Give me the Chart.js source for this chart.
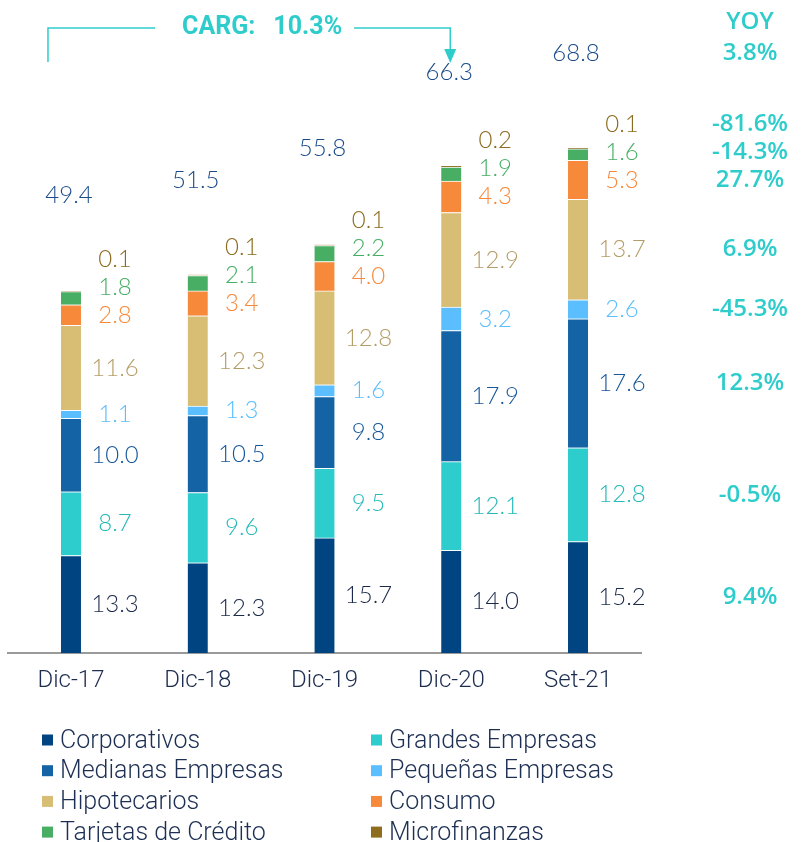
<!DOCTYPE html>
<html><head><meta charset="utf-8">
<script src="https://cdn.jsdelivr.net/npm/chart.js@4.4.1/dist/chart.umd.min.js"></script>
<style>html,body{margin:0;padding:0;background:#fff;}#wrap{width:805px;height:842px;}</style>
</head><body><div id="wrap"><canvas id="c" width="805" height="842"></canvas></div>
<script>
// ---- data ----
const categories = ['Dic-17','Dic-18','Dic-19','Dic-20','Set-21'];
const seriesNames = ['Corporativos','Grandes Empresas','Medianas Empresas','Pequeñas Empresas','Hipotecarios','Consumo','Tarjetas de Crédito','Microfinanzas'];
const corporativos     = [13.3, 12.3, 15.7, 14.0, 15.2];
const grandesEmpresas  = [8.7, 9.6, 9.5, 12.1, 12.8];
const medianasEmpresas = [10.0, 10.5, 9.8, 17.9, 17.6];
const pequenasEmpresas = [1.1, 1.3, 1.6, 3.2, 2.6];
const hipotecarios     = [11.6, 12.3, 12.8, 12.9, 13.7];
const consumo          = [2.8, 3.4, 4.0, 4.3, 5.3];
const tarjetas         = [1.8, 2.1, 2.2, 1.9, 1.6];
const microfinanzas    = [0.1, 0.1, 0.1, 0.2, 0.1];
const totals           = [49.4, 51.5, 55.8, 66.3, 68.8];
const yoyHeader = 'YOY';
const yoyTotal = '3.8%';
const yoySeries = ['9.4%','-0.5%','12.3%','-45.3%','6.9%','27.7%','-14.3%','-81.6%'];
const cagrLabel = 'CARG:';
const cagrValue = '10.3%';

// ---- styles ----
const barColors   = ['#004481','#2dcccd','#1464a5','#5bbeff','#d8be75','#f7893b','#48ae64','#8f6d1f'];
const labelColors = ['#1b2a4a','#27b8b8','#17579a','#5bbeff','#b59d67','#f7893b','#48ae64','#8b6b1f'];
const seriesValues = [corporativos, grandesEmpresas, medianasEmpresas, pequenasEmpresas, hipotecarios, consumo, tarjetas, microfinanzas];
const teal = '#2fcccc';
const navyText = '#1c2d4f';

const datasets = seriesNames.map((n, i) => ({
  label: n,
  data: seriesValues[i],
  backgroundColor: barColors[i],
  borderColor: '#ffffff',
  borderWidth: {top: 1, bottom: 0, left: 0, right: 0},
  borderSkipped: false,
  barThickness: 20
}));

function fmt(v){ return v.toFixed(1); }

const annotate = {
  id: 'annotate',
  afterDatasetsDraw(chart) {
    const ctx = chart.ctx;
    const xs = chart.scales.x, ys = chart.scales.y;
    ctx.save();
    ctx.textAlign = 'center';
    ctx.textBaseline = 'middle';
    categories.forEach((c, i) => {
      const xc = xs.getPixelForValue(i);
      let cum = 0, prev = Infinity;
      const ypos = [];
      seriesValues.forEach((arr, d) => {
        const v = arr[i];
        const yb = ys.getPixelForValue(cum);
        const yt = ys.getPixelForValue(cum + v);
        cum += v;
        let y = (yb + yt) / 2;
        y = Math.min(y, prev - 28);
        prev = y;
        ypos.push(y);
        ctx.font = '300 24px Lato';
        ctx.fillStyle = labelColors[d];
        ctx.fillText(fmt(v), xc + 44, y);
      });
      const ty = ys.getPixelForValue(totals[i] + 13);
      ctx.font = '300 24px Lato';
      ctx.fillStyle = '#1a4a8a';
      ctx.fillText(fmt(totals[i]), xc - 2, ty);
      if (i === categories.length - 1) {
        ctx.font = '600 24px "Open Sans"';
        ctx.fillStyle = teal;
        ctx.fillText(yoyHeader, 750, 22);
        ctx.fillText(yoyTotal, 750, ty);
        yoySeries.forEach((t, d) => ctx.fillText(t, 750, ypos[d]));
      }
    });

    // CARG annotation
    const xL = xs.getPixelForValue(0) - 23;
    const xR = xs.getPixelForValue(3) - 1;
    const yl = 28;
    ctx.font = 'bold 25px Roboto';
    const w1 = ctx.measureText(cagrLabel).width;
    const w2 = ctx.measureText(cagrValue).width;
    const gap = 18;
    const total = w1 + gap + w2;
    const cx = (xL + xR) / 2 + 13;
    const tL = cx - total / 2;
    ctx.fillStyle = teal;
    ctx.textAlign = 'left';
    ctx.textBaseline = 'middle';
    ctx.fillText(cagrLabel, tL, yl);
    ctx.fillText(cagrValue, tL + w1 + gap, yl);
    ctx.strokeStyle = teal;
    ctx.lineWidth = 1.5;
    ctx.beginPath();
    ctx.moveTo(xL, 62); ctx.lineTo(xL, yl); ctx.lineTo(tL - 27, yl);
    ctx.moveTo(tL + total + 12, yl); ctx.lineTo(xR, yl); ctx.lineTo(xR, 50);
    ctx.stroke();
    ctx.fillStyle = teal;
    ctx.beginPath();
    ctx.moveTo(xR - 6, 49); ctx.lineTo(xR + 6, 49); ctx.lineTo(xR, 63); ctx.closePath();
    ctx.fill();

    // legend
    const colX = [42, 371];
    const rowY = [740, 770.7, 801.4, 832.1];
    ctx.font = '300 25px Roboto';
    ctx.textBaseline = 'alphabetic';
    ctx.textAlign = 'left';
    seriesNames.forEach((n, d) => {
      const col = d % 2, row = Math.floor(d / 2);
      const x = colX[col], y = rowY[row];
      ctx.fillStyle = barColors[d];
      ctx.fillRect(x, y - 5.5, 11, 11);
      ctx.fillStyle = '#1d3054';
      ctx.fillText(n, x + 18, y + 7.5);
    });
    ctx.restore();
  }
};

new Chart(document.getElementById('c'), {
  type: 'bar',
  data: { labels: categories, datasets },
  options: {
    responsive: false,
    animation: false,
    layout: { padding: { left: 7.6, right: 163.6, top: 8, bottom: 139 } },
    plugins: { legend: { display: false }, tooltip: { enabled: false } },
    scales: {
      x: {
        stacked: true,
        grid: { display: false, drawTicks: false },
        border: { display: true, color: '#9a9a9a', width: 2 },
        ticks: { color: navyText, font: { family: 'Roboto', size: 24, weight: '300' }, padding: 14 },
        afterFit(s) { s.height = 50; }
      },
      y: { stacked: true, display: false, min: 0, max: 88 }
    }
  },
  plugins: [annotate]
});
</script>
</body></html>
